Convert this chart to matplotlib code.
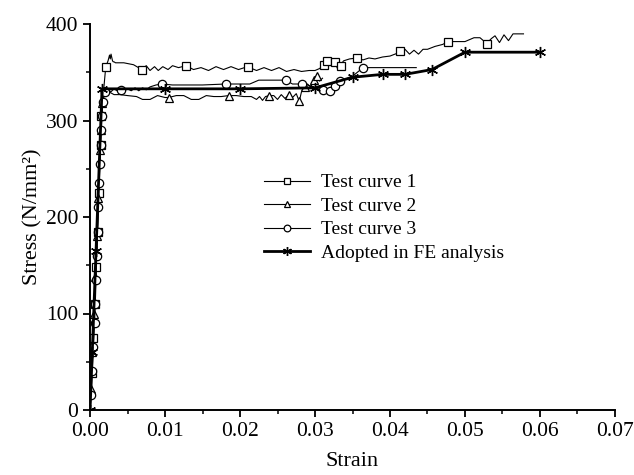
import matplotlib
matplotlib.use("Agg")
import matplotlib.pyplot as plt
from matplotlib.ticker import MultipleLocator, FormatStrFormatter

# ---- data (strain, stress N/mm^2) ----
c1_strain = [0.0000, 0.0001, 0.0002, 0.0003, 0.0004, 0.0005, 0.0006, 0.0007, 0.0008,
             0.0009, 0.0010, 0.0011, 0.0012, 0.0013, 0.0014, 0.0015, 0.0021, 0.0024,
             0.0026, 0.0027, 0.0028, 0.0030, 0.0031, 0.0032, 0.0034, 0.0045, 0.0058,
             0.0069, 0.0075, 0.0080, 0.0086, 0.0091, 0.0097, 0.0104, 0.0110, 0.0118,
             0.0128, 0.0138, 0.0148, 0.0158, 0.0168, 0.0178, 0.0188, 0.0198, 0.0210,
             0.0222, 0.0232, 0.0242, 0.0252, 0.0262, 0.0272, 0.0282, 0.0292, 0.0300,
             0.0306, 0.0312, 0.0316, 0.0320, 0.0326, 0.0330, 0.0334, 0.0338, 0.0346,
             0.0356, 0.0364, 0.0372, 0.0380, 0.0390, 0.0400, 0.0410, 0.0414, 0.0420,
             0.0426, 0.0432, 0.0438, 0.0444, 0.0450, 0.0460, 0.0470, 0.0478, 0.0490,
             0.0500, 0.0506, 0.0512, 0.0520, 0.0529, 0.0535, 0.0540, 0.0546, 0.0552,
             0.0558, 0.0564, 0.0578]
c1_stress = [0, 18, 38, 55, 75, 92, 110, 128, 148,
             165, 185, 205, 225, 250, 275, 305, 356, 362,
             368, 364, 369, 362, 361, 361, 360, 360, 358,
             353, 357, 352, 356, 352, 356, 353, 357, 355,
             357, 353, 355, 352, 356, 353, 356, 353, 356,
             352, 355, 352, 355, 351, 353, 351, 352, 352,
             354, 358, 362, 357, 361, 354, 357, 362, 364,
             365, 363, 365, 364, 366, 367, 370, 372, 374,
             369, 373, 369, 374, 374, 377, 379, 382, 382,
             382, 384, 386, 386, 380, 385, 388, 381, 389,
             383, 390, 390]
c1_marks = [0.0002, 0.0004, 0.0006, 0.0008, 0.0010, 0.0012, 0.0014, 0.0015, 0.0021,
            0.0069, 0.0128, 0.0210, 0.0312, 0.0316, 0.0326, 0.0334, 0.0356, 0.0414,
            0.0478, 0.0529]

c2_strain = [0.0000, 0.0001, 0.0002, 0.0003, 0.0004, 0.0005, 0.0006, 0.0007, 0.0008,
             0.0009, 0.0010, 0.0011, 0.0012, 0.0013, 0.0014, 0.0016, 0.0018, 0.0025,
             0.0032, 0.0040, 0.0050, 0.0062, 0.0070, 0.0080, 0.0090, 0.0100, 0.0105,
             0.0115, 0.0125, 0.0135, 0.0145, 0.0155, 0.0165, 0.0175, 0.0185, 0.0195,
             0.0205, 0.0215, 0.0222, 0.0226, 0.0230, 0.0234, 0.0239, 0.0245, 0.0250,
             0.0255, 0.0260, 0.0265, 0.0270, 0.0275, 0.0279, 0.0282, 0.0286, 0.0290,
             0.0294, 0.0298, 0.0302, 0.0306, 0.0310]
c2_stress = [0, 22, 42, 60, 80, 100, 118, 138, 158,
             180, 200, 220, 245, 270, 290, 318, 328, 330,
             327, 327, 326, 325, 322, 322, 326, 324, 324,
             326, 326, 322, 322, 326, 325, 325, 326, 326,
             325, 325, 322, 325, 321, 325, 326, 326, 322,
             327, 323, 327, 324, 328, 320, 330, 335, 338,
             335, 342, 346, 341, 344]
c2_marks = [0.0001, 0.0003, 0.0005, 0.0007, 0.0009, 0.0011, 0.0013, 0.0014, 0.0016,
            0.0105, 0.0185, 0.0239, 0.0265, 0.0279, 0.0286, 0.0298, 0.0302]

c3_strain = [0.0000, 0.00015, 0.0003, 0.00045, 0.0006, 0.0007, 0.0008, 0.0009, 0.0010,
             0.0011, 0.0012, 0.0013, 0.0014, 0.0015, 0.0016, 0.0017, 0.0020, 0.0024,
             0.0028, 0.0032, 0.0036, 0.0041, 0.0046, 0.0050, 0.0055, 0.0060, 0.0065,
             0.0070, 0.0075, 0.0080, 0.0088, 0.0096, 0.0110, 0.0130, 0.0150, 0.0181,
             0.0200, 0.0213, 0.0225, 0.0240, 0.0261, 0.0270, 0.0283, 0.0290, 0.0300,
             0.0310, 0.0320, 0.0326, 0.0333, 0.0340, 0.0350, 0.0364, 0.0380, 0.0400,
             0.0435]
c3_stress = [0, 15, 40, 65, 90, 110, 135, 160, 185,
             210, 235, 255, 275, 290, 305, 319, 330, 332,
             330, 333, 331, 332, 331, 333, 331, 334, 331,
             334, 332, 335, 337, 338, 337, 337, 337, 338,
             338, 338, 342, 342, 342, 338, 338, 337, 334,
             332, 331, 336, 341, 343, 346, 355, 355, 355,
             355]
c3_marks = [0.00015, 0.0003, 0.00045, 0.0006, 0.0007, 0.0008, 0.0009, 0.0010, 0.0011,
            0.0012, 0.0013, 0.0014, 0.0015, 0.0016, 0.0017, 0.0020, 0.0041, 0.0096,
            0.0181, 0.0261, 0.0283, 0.0310, 0.0320, 0.0326, 0.0333, 0.0364]

fe_strain = [0.0000, 0.0003, 0.0008, 0.0016, 0.0100, 0.0200, 0.0300, 0.0350, 0.0390,
             0.0420, 0.0456, 0.0500, 0.0600]
fe_stress = [0, 60, 165, 333, 333, 333, 334, 345, 348, 348, 353, 371, 371]

labels = ["Test curve 1", "Test curve 2", "Test curve 3", "Adopted in FE analysis"]

plt.rcParams["font.family"] = ["Liberation Serif", "DejaVu Serif"]
plt.rcParams["font.size"] = 15.5

fig = plt.figure(figsize=(6.34, 4.75), dpi=100)
ax = fig.add_axes([0.142, 0.137, 0.828, 0.812])


def idx(strain, marks):
    return [strain.index(m) for m in marks]


common = dict(color="black", markerfacecolor="white", markeredgecolor="black",
              markeredgewidth=0.9)
ax.plot(c1_strain, c1_stress, marker="s", markersize=5.5, linewidth=0.8,
        markevery=idx(c1_strain, c1_marks), label=labels[0], **common)
ax.plot(c2_strain, c2_stress, marker="^", markersize=6, linewidth=0.8,
        markevery=idx(c2_strain, c2_marks), label=labels[1], **common)
ax.plot(c3_strain, c3_stress, marker="o", markersize=6, linewidth=0.8,
        markevery=idx(c3_strain, c3_marks), label=labels[2], **common)
ax.plot(fe_strain, fe_stress, marker=(6, 2, 0), markersize=8, linewidth=2.0,
        color="black", markeredgewidth=1.0, label=labels[3])

ax.set_xlim(0, 0.07)
ax.set_ylim(0, 400)
ax.xaxis.set_major_locator(MultipleLocator(0.01))
ax.xaxis.set_minor_locator(MultipleLocator(0.005))
ax.xaxis.set_major_formatter(FormatStrFormatter("%.2f"))
ax.yaxis.set_major_locator(MultipleLocator(100))
ax.yaxis.set_minor_locator(MultipleLocator(50))
ax.tick_params(which="major", direction="out", length=5, width=1.3, labelsize=15.5)
ax.tick_params(which="minor", direction="out", length=3, width=1.1)

ax.spines["top"].set_visible(False)
ax.spines["right"].set_visible(False)
for s in ("left", "bottom"):
    ax.spines[s].set_linewidth(1.4)

ax.set_xlabel("Strain", fontsize=16, labelpad=8)
ax.set_ylabel("Stress (N/mm\u00b2)", fontsize=16, labelpad=2)

ax.legend(loc="upper left", bbox_to_anchor=(0.331, 0.612), frameon=False,
          fontsize=14, handlelength=2.4, handletextpad=0.55, labelspacing=0.3,
          borderaxespad=0, borderpad=0, markerscale=0.8)

fig.savefig("out.png", dpi=100)
